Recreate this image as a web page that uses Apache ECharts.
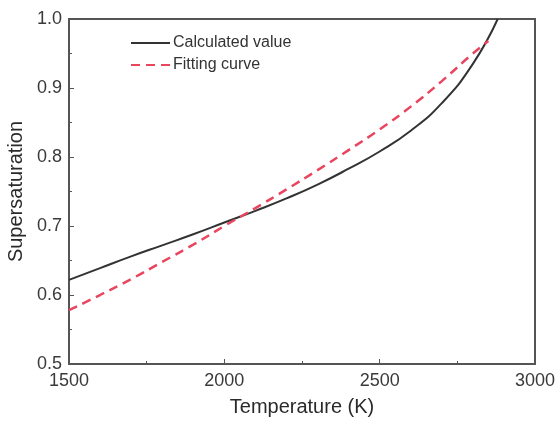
<!DOCTYPE html>
<html lang="en">
  <head>
    <meta charset="UTF-8" />
    <title>Supersaturation vs Temperature</title>
    <script src="https://cdn.jsdelivr.net/npm/echarts@6/dist/echarts.min.js"></script>
    <style>
      html, body { margin: 0; padding: 0; background: #fff; }
      #chart { width: 555px; height: 422px; }
    </style>
  </head>
  <body>
    <div id="chart"></div>
    <script>
      // values
      var calcTemp = [1500, 1600, 1700, 1800, 1900, 2000, 2100, 2200, 2300, 2400, 2500, 2600, 2700, 2800, 2880];
      var calcValue = [0.622, 0.639, 0.656, 0.672, 0.688, 0.705, 0.722, 0.740, 0.760, 0.783, 0.808, 0.838, 0.878, 0.935, 1.0];
      var fitTemp = [1500, 1600, 1700, 1800, 1900, 2000, 2100, 2200, 2300, 2400, 2500, 2600, 2700, 2800, 2850];
      var fitValue = [0.578, 0.600, 0.623, 0.648, 0.673, 0.700, 0.726, 0.753, 0.781, 0.810, 0.840, 0.873, 0.910, 0.950, 0.968];
      var xTicks = [1500, 2000, 2500, 3000];

      function pairs(xs, ys) {
        return xs.map(function (x, i) { return [x, ys[i]]; });
      }

      var chart = echarts.init(document.getElementById('chart'));
      var axisFont = { fontFamily: 'Liberation Sans', fontSize: 18, color: '#3a3a3a' };
      var titleFont = { fontFamily: 'Liberation Sans', fontSize: 20, color: '#2a2a2a' };
      chart.setOption({
        animation: false,
        grid: {
          left: 69, top: 19, right: 20, bottom: 58,
          outerBoundsMode: 'none',
          show: true, borderColor: '#555', borderWidth: 2, backgroundColor: 'transparent'
        },
        legend: {
          orient: 'vertical',
          left: 130, top: 35, padding: 0,
          itemWidth: 39, itemHeight: 10, itemGap: 6,
          itemStyle: { opacity: 0 },
          textStyle: { fontFamily: 'Liberation Sans', fontSize: 16, color: '#333', padding: [0, 0, 0, -2] },
          data: ['Calculated value', 'Fitting curve']
        },
        xAxis: {
          type: 'value',
          min: xTicks[0], max: xTicks[xTicks.length - 1], interval: 500,
          name: 'Temperature (K)', nameLocation: 'middle', nameGap: 33,
          nameTextStyle: titleFont,
          axisLine: { lineStyle: { color: '#555', width: 2 } },
          axisTick: { inside: true, length: 5, lineStyle: { color: '#555' } },
          minorTick: { show: true, splitNumber: 2, length: 3, lineStyle: { color: '#555' } },
          axisLabel: Object.assign({
            margin: 8,
            formatter: function (v) { return String(v); }
          }, axisFont),
          splitLine: { show: false }
        },
        yAxis: {
          type: 'value',
          min: 0.5, max: 1.0, interval: 0.1,
          name: 'Supersaturation', nameLocation: 'middle', nameGap: 39,
          nameTextStyle: titleFont,
          axisLine: { lineStyle: { color: '#555', width: 2 } },
          axisTick: { inside: true, length: 5, lineStyle: { color: '#555' } },
          minorTick: { show: true, splitNumber: 2, length: 3, lineStyle: { color: '#555' } },
          axisLabel: Object.assign({
            margin: 7,
            formatter: function (v) { return v.toFixed(1); }
          }, axisFont),
          splitLine: { show: false }
        },
        series: [
          {
            name: 'Calculated value',
            type: 'line',
            smooth: true,
            symbol: 'none',
            color: '#333',
            lineStyle: { color: '#333', width: 2 },
            data: pairs(calcTemp, calcValue)
          },
          {
            name: 'Fitting curve',
            type: 'line',
            smooth: true,
            symbol: 'none',
            color: '#e8455e',
            lineStyle: { color: '#e8455e', width: 2.5, type: [9, 6] },
            data: pairs(fitTemp, fitValue)
          }
        ]
      });
    </script>
  </body>
</html>
